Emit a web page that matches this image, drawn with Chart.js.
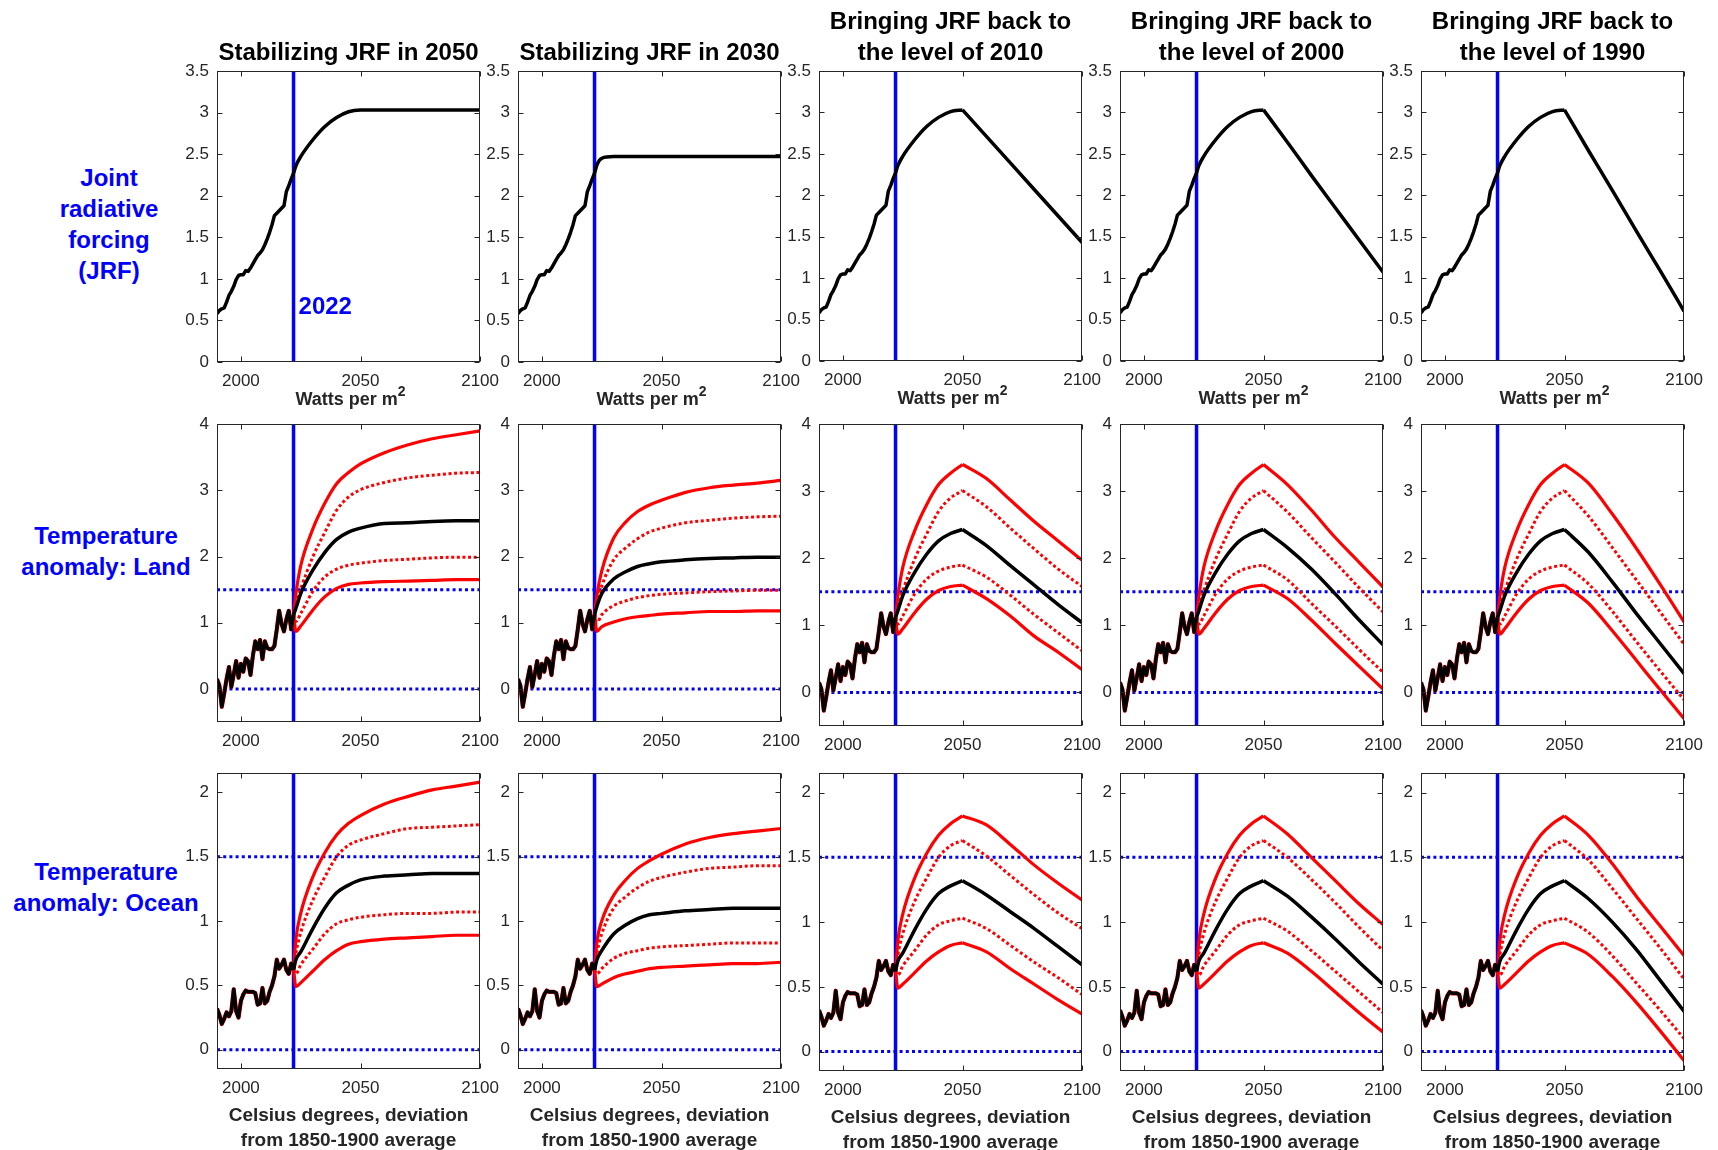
<!DOCTYPE html>
<html>
<head>
<meta charset="utf-8">
<script src="https://cdn.jsdelivr.net/npm/chart.js@4.4.1/dist/chart.umd.min.js"></script>
<style>
html,body{margin:0;padding:0;background:#fff;}
body{width:1718px;height:1150px;position:relative;overflow:hidden;font-family:'Liberation Sans',Arial,sans-serif;}
.rowlab{position:absolute;width:200px;color:#0000ff;font-weight:bold;font-size:24px;line-height:31px;text-align:center;}
.unit{position:absolute;width:267px;color:#262626;font-weight:bold;font-size:18px;line-height:22px;text-align:center;}
.unit sup{font-size:14px;line-height:0;position:relative;top:-2px;}
canvas{position:absolute;}
</style>
</head>
<body>
<div class="rowlab" style="left:9px;top:162px">Joint<br>radiative<br>forcing<br>(JRF)</div>
<div class="rowlab" style="left:6px;top:520px">Temperature<br>anomaly: Land</div>
<div class="rowlab" style="left:6px;top:856px">Temperature<br>anomaly: Ocean</div>
<script>
// observed part, 1990-2022
const histYears = [1990,1991,1992,1993,1994,1995,1996,1997,1998,1999,2000,2001,2002,2003,2004,2005,2006,2007,2008,2009,2010,2011,2012,2013,2014,2015,2016,2017,2018,2019,2020,2021,2022];
const histJrf = [0.58,0.62,0.64,0.65,0.72,0.80,0.85,0.91,0.99,1.04,1.05,1.05,1.10,1.09,1.13,1.18,1.23,1.28,1.31,1.35,1.41,1.48,1.56,1.65,1.76,1.79,1.82,1.85,1.88,2.05,2.12,2.20,2.27];
const histLand = [0.15,0.05,-0.27,-0.07,0.15,0.33,0.03,0.22,0.42,0.17,0.38,0.26,0.46,0.42,0.21,0.50,0.72,0.60,0.74,0.45,0.72,0.62,0.60,0.60,0.65,0.90,1.18,0.98,0.87,1.05,1.18,0.90,1.12];
const histOcean = [0.32,0.27,0.20,0.24,0.29,0.26,0.30,0.47,0.30,0.25,0.38,0.43,0.46,0.45,0.45,0.45,0.44,0.35,0.36,0.48,0.36,0.38,0.45,0.50,0.57,0.70,0.63,0.66,0.70,0.62,0.59,0.67,0.62];

// projections: rise 2022-2050, tail 2060-2100
const riseYears = [2022,2023,2025,2030,2035,2040,2045,2050];
const tailYears = [2060,2070,2080,2090,2100];

const jrfRise2050 = [2.27,2.36,2.47,2.67,2.83,2.94,3.01,3.03];
const jrfRise2030 = [2.27,2.37,2.45,2.47,2.47,2.47,2.47,2.47];
const jrfTail2050 = [3.03,3.03,3.03,3.03,3.03];
const jrfTail2030 = [2.47,2.47,2.47,2.47,2.47];
const jrfTail2010 = [2.71,2.39,2.07,1.75,1.43];
const jrfTail2000 = [2.64,2.24,1.85,1.46,1.07];
const jrfTail1990 = [2.54,2.06,1.57,1.09,0.60];

// rows: upper, upper dotted, central, lower dotted, lower
const landRise2050 = [
  [1.12,1.44,1.86,2.41,2.80,3.10,3.27,3.40],
  [1.12,1.28,1.51,1.99,2.36,2.70,2.90,3.01],
  [1.12,1.22,1.44,1.79,2.06,2.26,2.37,2.43],
  [1.12,1.02,1.14,1.47,1.69,1.81,1.87,1.90],
  [1.12,0.87,0.95,1.19,1.39,1.52,1.58,1.60]
];
const landTail2050 = [
  [3.57,3.69,3.78,3.84,3.90],
  [3.12,3.19,3.23,3.26,3.27],
  [2.50,2.51,2.53,2.54,2.54],
  [1.94,1.96,1.98,1.99,1.99],
  [1.62,1.63,1.64,1.65,1.65]
];
const landRise2030 = [
  [1.12,1.42,1.78,2.28,2.52,2.68,2.78,2.85],
  [1.12,1.28,1.55,1.95,2.13,2.27,2.37,2.43],
  [1.12,1.25,1.44,1.66,1.77,1.85,1.89,1.92],
  [1.12,1.00,1.12,1.26,1.33,1.38,1.41,1.43],
  [1.12,0.87,0.94,1.01,1.06,1.09,1.11,1.13]
];
const landTail2030 = [
  [2.97,3.04,3.08,3.11,3.15],
  [2.51,2.55,2.58,2.60,2.61],
  [1.95,1.97,1.98,1.99,1.99],
  [1.45,1.47,1.48,1.49,1.49],
  [1.15,1.17,1.17,1.18,1.18]
];
const landTail2010 = [
  [3.19,2.87,2.55,2.26,1.97],
  [2.77,2.45,2.14,1.84,1.58],
  [2.19,1.89,1.60,1.31,1.04],
  [1.72,1.45,1.16,0.89,0.62],
  [1.40,1.14,0.84,0.60,0.34]
];
const landTail2000 = [
  [3.10,2.72,2.31,1.94,1.57],
  [2.69,2.31,1.94,1.56,1.20],
  [2.16,1.84,1.47,1.08,0.71],
  [1.68,1.33,0.99,0.64,0.30],
  [1.40,1.08,0.73,0.39,0.05]
];
const landTail1990 = [
  [3.12,2.66,2.15,1.61,1.05],
  [2.63,2.16,1.68,1.20,0.72],
  [2.09,1.65,1.18,0.73,0.28],
  [1.62,1.21,0.76,0.32,-0.11],
  [1.33,0.92,0.48,0.04,-0.39]
];

const oceanRise2050 = [
  [0.62,0.86,1.06,1.34,1.53,1.67,1.76,1.82],
  [0.62,0.75,0.91,1.16,1.34,1.50,1.59,1.63],
  [0.62,0.70,0.76,0.94,1.10,1.22,1.28,1.32],
  [0.62,0.59,0.66,0.78,0.90,0.98,1.01,1.03],
  [0.62,0.49,0.52,0.61,0.70,0.77,0.82,0.84]
];
const oceanTail2050 = [
  [1.91,1.97,2.02,2.05,2.08],
  [1.68,1.72,1.73,1.74,1.75],
  [1.35,1.36,1.37,1.37,1.37],
  [1.05,1.06,1.06,1.07,1.07],
  [0.86,0.87,0.88,0.89,0.89]
];
const oceanRise2030 = [
  [0.62,0.84,1.00,1.20,1.32,1.41,1.47,1.52],
  [0.62,0.75,0.90,1.10,1.19,1.26,1.31,1.34],
  [0.62,0.70,0.77,0.90,0.97,1.02,1.05,1.06],
  [0.62,0.59,0.63,0.71,0.75,0.77,0.79,0.80],
  [0.62,0.49,0.51,0.56,0.59,0.61,0.63,0.64]
];
const oceanTail2030 = [
  [1.60,1.65,1.68,1.70,1.72],
  [1.38,1.41,1.42,1.43,1.43],
  [1.08,1.09,1.10,1.10,1.10],
  [0.81,0.82,0.83,0.83,0.83],
  [0.65,0.66,0.67,0.67,0.68]
];
const oceanTail2010 = [
  [1.75,1.60,1.44,1.30,1.17],
  [1.51,1.36,1.21,1.07,0.95],
  [1.21,1.08,0.95,0.81,0.67],
  [0.95,0.82,0.69,0.57,0.44],
  [0.77,0.64,0.52,0.40,0.29]
];
const oceanTail2000 = [
  [1.68,1.50,1.32,1.14,0.98],
  [1.50,1.33,1.15,0.96,0.78],
  [1.20,1.04,0.87,0.69,0.52],
  [0.93,0.78,0.62,0.46,0.30],
  [0.76,0.62,0.46,0.30,0.15]
];
const oceanTail1990 = [
  [1.67,1.45,1.20,0.97,0.74],
  [1.48,1.26,1.03,0.80,0.56],
  [1.18,1.00,0.79,0.55,0.31],
  [0.92,0.74,0.53,0.32,0.10],
  [0.75,0.58,0.38,0.16,-0.07]
];

const yearTicks = [2000,2050,2100];
const jrfTicks = [0,0.5,1,1.5,2,2.5,3,3.5];
const landTicks = [0,1,2,3,4];
const oceanTicks = [0,0.5,1,1.5,2];
const refYear = 2022;
const refLevels = [0,1.5];

const titles = [
  ['Stabilizing JRF in 2050'],
  ['Stabilizing JRF in 2030'],
  ['Bringing JRF back to','the level of 2010'],
  ['Bringing JRF back to','the level of 2000'],
  ['Bringing JRF back to','the level of 1990']
];

const scenarios = [
  {jrf:[jrfRise2050,jrfTail2050], land:[landRise2050,landTail2050], ocean:[oceanRise2050,oceanTail2050], kink:false},
  {jrf:[jrfRise2030,jrfTail2030], land:[landRise2030,landTail2030], ocean:[oceanRise2030,oceanTail2030], kink:false},
  {jrf:[jrfRise2050,jrfTail2010], land:[landRise2050,landTail2010], ocean:[oceanRise2050,oceanTail2010], kink:true},
  {jrf:[jrfRise2050,jrfTail2000], land:[landRise2050,landTail2000], ocean:[oceanRise2050,oceanTail2000], kink:true},
  {jrf:[jrfRise2050,jrfTail1990], land:[landRise2050,landTail1990], ocean:[oceanRise2050,oceanTail1990], kink:true}
];

const FONT = "'Liberation Sans', Arial, sans-serif";
const TICK_COLOR = '#262626';
const YW = 50, PADR = 24, PLOTW = 267;
const colLeft = [217,518,819,1120,1421];
const rowDefs = [
  {key:'jrf', hist:histJrf, min:0, max:3.5, ticks:jrfTicks, top:71, bottom:[362,362,361,361,361], padTop:0, xH:48},
  {key:'land', hist:histLand, min:-0.5, max:4, ticks:landTicks, top:418, bottom:[722,722,726,726,726], padTop:12, xH:30},
  {key:'ocean', hist:histOcean, min:-0.15, max:2.15, ticks:oceanTicks, top:767, bottom:[1069,1069,1071,1071,1071], padTop:12, xH:85}
];

// band styles: upper, upper dotted, central, lower dotted, lower
const bandStyle = [
  {color:'#ff0000', dash:[], width:3.2, order:1},
  {color:'#ff0000', dash:[3,2.6], width:3, order:1},
  {color:'#000000', dash:[], width:3.5, order:0},
  {color:'#ff0000', dash:[3,2.6], width:3, order:1},
  {color:'#ff0000', dash:[], width:3.2, order:1}
];

function pts(xs, ys){ return xs.map((x,i)=>({x:x, y:ys[i]})); }

function lineDs(data, st, smooth){
  return {
    data: data, borderColor: st.color, borderWidth: st.width, borderDash: st.dash,
    borderCapStyle: 'butt', borderJoinStyle: 'round', pointRadius: 0, fill: false,
    order: st.order, cubicInterpolationMode: smooth ? 'monotone' : 'default', tension: 0
  };
}

function projDatasets(rise, tail, kink, st){
  const r = pts(riseYears, rise);
  const t = pts(tailYears, tail);
  if (kink) return [lineDs(r, st, true), lineDs([r[r.length-1]].concat(t), st, true)];
  return [lineDs(r.concat(t), st, true)];
}

const boxPlugin = {
  id: 'box',
  afterDatasetsDraw(chart){
    const ctx = chart.ctx, a = chart.chartArea, x = chart.scales.x, y = chart.scales.y;
    const L = Math.round(a.left)+0.5, R = Math.round(a.right)-0.5, T = Math.round(a.top)+0.5, B = Math.round(a.bottom)-0.5;
    ctx.save();
    ctx.strokeStyle = TICK_COLOR; ctx.lineWidth = 1;
    ctx.strokeRect(L, T, R-L, B-T);
    ctx.beginPath();
    x.ticks.forEach(t=>{
      const px = Math.round(x.getPixelForValue(t.value))+0.5;
      ctx.moveTo(px, B); ctx.lineTo(px, B-5);
      ctx.moveTo(px, T); ctx.lineTo(px, T+5);
    });
    y.ticks.forEach(t=>{
      const py = Math.round(y.getPixelForValue(t.value))+0.5;
      ctx.moveTo(L, py); ctx.lineTo(L+5, py);
      ctx.moveTo(R, py); ctx.lineTo(R-5, py);
    });
    ctx.stroke();
    ctx.restore();
  }
};

const yearLabelPlugin = {
  id: 'yearLabel',
  afterDatasetsDraw(chart){
    const ctx = chart.ctx;
    ctx.save();
    ctx.fillStyle = '#0000ff';
    ctx.font = 'bold 24px ' + FONT;
    ctx.textAlign = 'left'; ctx.textBaseline = 'middle';
    ctx.fillText(String(refYear), chart.scales.x.getPixelForValue(refYear)+5, chart.scales.y.getPixelForValue(0.66));
    ctx.restore();
  }
};

rowDefs.forEach((row, ri)=>{
  scenarios.forEach((sc, ci)=>{
    const plotBottom = row.bottom[ci];
    const plotH = plotBottom - row.top;
    const topSpace = ri === 0 ? 71 : row.padTop;
    const cv = document.createElement('canvas');
    const W = YW + PLOTW + PADR, H = topSpace + plotH + row.xH;
    cv.width = W; cv.height = H;
    cv.style.left = (colLeft[ci]-YW)+'px';
    cv.style.top = (row.top-topSpace)+'px';
    cv.style.width = W+'px'; cv.style.height = H+'px';
    document.body.appendChild(cv);

    if (ri === 0) {
      const u = document.createElement('div');
      u.className = 'unit';
      u.style.left = colLeft[ci]+'px';
      u.style.top = (plotBottom+26)+'px';
      u.innerHTML = 'Watts per m<sup>2</sup>';
      document.body.appendChild(u);
    }

    const datasets = [];
    // reference lines
    datasets.push({data:[{x:refYear,y:row.min},{x:refYear,y:row.max}], borderColor:'#0000ff', borderWidth:3.5, pointRadius:0, order:3, borderCapStyle:'butt'});
    if (ri > 0) {
      refLevels.forEach(v=>{
        datasets.push({data:[{x:1990,y:v},{x:2100,y:v}], borderColor:'#0000ff', borderWidth:3, borderDash:[3,3.2], borderCapStyle:'butt', pointRadius:0, order:3});
      });
    }
    const hist = pts(histYears, row.hist);
    if (ri === 0) {
      datasets.push(lineDs(hist, bandStyle[2], false));
      projDatasets(sc.jrf[0], sc.jrf[1], sc.kink, bandStyle[2]).forEach(d=>datasets.push(d));
    } else {
      const src = sc[row.key];
      // red history underneath the black line
      datasets.push(lineDs(hist, {color:'#ff0000', dash:[], width:4.2, order:2}, false));
      for (let b=0; b<5; b++) {
        projDatasets(src[0][b], src[1][b], sc.kink, bandStyle[b]).forEach(d=>datasets.push(d));
      }
      datasets.push(lineDs(hist, bandStyle[2], false));
    }

    let xTitle = {display:false};
    if (ri === 2) xTitle = {display:true, text:['Celsius degrees, deviation','from 1850-1900 average'], color:TICK_COLOR, font:{family:FONT, size:19, weight:'bold', lineHeight:1.3}, padding:{top:0, bottom:1}};

    const plugins = [boxPlugin];
    if (ri === 0 && ci === 0) plugins.push(yearLabelPlugin);

    new Chart(cv, {
      type: 'line',
      data: {datasets: datasets},
      options: {
        responsive: false, animation: false, devicePixelRatio: 1, events: [],
        layout: {padding: {top: row.padTop, right: PADR, left: 0, bottom: 0}},
        elements: {point: {radius: 0}},
        plugins: {
          legend: {display: false},
          tooltip: {enabled: false},
          title: ri === 0 ? {
            display: true, fullSize: false, text: titles[ci], color: '#000',
            font: {family: FONT, size: 24, weight: 'bold', lineHeight: 1.27},
            padding: {top: titles[ci].length === 1 ? 38 : 7.5, bottom: 2.5}
          } : {display: false}
        },
        scales: {
          x: {
            type: 'linear', min: 1990, max: 2100,
            afterBuildTicks: s=>{ s.ticks = yearTicks.map(v=>({value:v})); },
            afterFit: s=>{ s.height = row.xH; },
            grid: {display: false, drawTicks: false},
            border: {display: false},
            ticks: {color: TICK_COLOR, padding: 9, maxRotation: 0, autoSkip: false, font: {family: FONT, size: 17}, callback: v=>String(v)},
            title: xTitle
          },
          y: {
            type: 'linear', min: row.min, max: row.max,
            afterBuildTicks: s=>{ s.ticks = row.ticks.map(v=>({value:v})); },
            afterFit: s=>{ s.width = YW; },
            grid: {display: false, drawTicks: false},
            border: {display: false},
            ticks: {color: TICK_COLOR, padding: 8, autoSkip: false, font: {family: FONT, size: 17}, callback: v=>String(v)}
          }
        }
      },
      plugins: plugins
    });
  });
});
</script>
</body>
</html>
